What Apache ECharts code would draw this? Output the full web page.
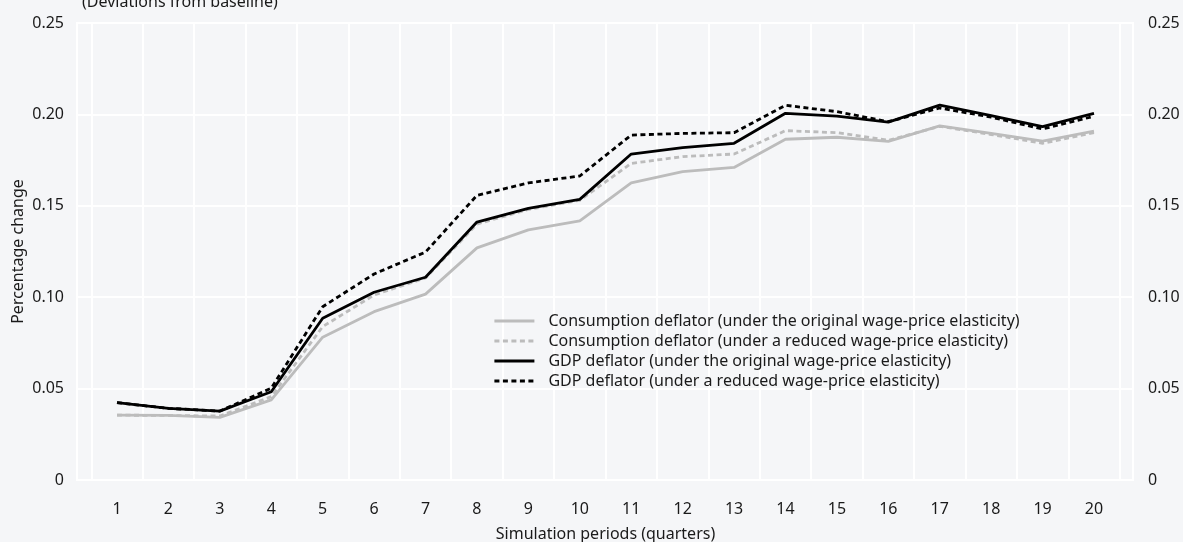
<!DOCTYPE html>
<html>
<head>
<meta charset="utf-8">
<script src="https://cdn.jsdelivr.net/npm/echarts@6/dist/echarts.min.js"></script>
<style>
html,body{margin:0;padding:0;background:#f5f6f8;}
#chart{width:1183px;height:542px;}
</style>
</head>
<body>
<div id="chart"></div>
<script>
const categories = ['1','2','3','4','5','6','7','8','9','10','11','12','13','14','15','16','17','18','19','20'];
const yTicks = [0, 0.05, 0.10, 0.15, 0.20, 0.25];
const consOriginal = [0.0355,0.0353,0.0343,0.0438,0.0781,0.0921,0.1017,0.1270,0.1368,0.1417,0.1626,0.1687,0.1710,0.1864,0.1875,0.1852,0.1937,0.1896,0.1854,0.1909];
const consReduced  = [0.0355,0.0353,0.0350,0.0456,0.0839,0.1012,0.1105,0.1400,0.1480,0.1530,0.1732,0.1769,0.1783,0.1911,0.1900,0.1858,0.1935,0.1890,0.1842,0.1900];
const gdpOriginal  = [0.0423,0.0392,0.0377,0.0483,0.0885,0.1027,0.1109,0.1411,0.1486,0.1535,0.1783,0.1818,0.1842,0.2006,0.1991,0.1958,0.2051,0.1993,0.1933,0.2006];
const gdpReduced   = [0.0423,0.0392,0.0377,0.0502,0.0948,0.1127,0.1247,0.1557,0.1625,0.1663,0.1887,0.1896,0.1900,0.2050,0.2015,0.1960,0.2035,0.1985,0.1920,0.1990];
const seriesNames = [
  'Consumption deflator (under the original wage-price elasticity)',
  'Consumption deflator (under a reduced wage-price elasticity)',
  'GDP deflator (under the original wage-price elasticity)',
  'GDP deflator (under a reduced wage-price elasticity)'
];

const FONT = 'Noto Sans';
const FS = 16;
const TXT = '#1a1a1a';
const chart = echarts.init(document.getElementById('chart'));
function fmt(v){ return v === 0 ? '0' : v.toFixed(2); }
function mk(name, data, color, dashed){
  return {
    name: name, type: 'line', data: data, xAxisIndex: 1, yAxisIndex: 2,
    symbol: 'none', smooth: false,
    lineStyle: {color: color, width: 2.8, type: dashed ? [5,3.5] : 'solid'},
    itemStyle: {color: color}
  };
}
chart.setOption({
  backgroundColor: '#f5f6f8',
  animation: false,
  textStyle: {fontFamily: FONT, color: TXT},
  title: {
    text: '(Deviations from baseline)', left: 77, top: -11,
    textStyle: {fontFamily: FONT, fontSize: FS, fontWeight: 'normal', color: TXT}
  },
  legend: {
    orient: 'vertical', left: 493, top: 313, padding: 0,
    itemWidth: 40, itemHeight: 16, itemGap: 4,
    itemStyle: {opacity: 0},
    lineStyle: {width: 2.8},
    textStyle: {fontFamily: FONT, fontSize: FS, color: TXT, padding: [0, 0, 0, 9]},
    data: seriesNames
  },
  grid: [
    {left: 77, right: 50, top: 23, bottom: 62, show: true, borderColor: '#ffffff', borderWidth: 2, backgroundColor: 'transparent', outerBoundsMode: 'none', containLabel: false},
    {left: 91.3, right: 63.3, top: 23, bottom: 62, outerBoundsMode: 'none', containLabel: false}
  ],
  xAxis: [
    {type: 'value', gridIndex: 0, min: 0, max: 1, show: false},
    {
      type: 'category', gridIndex: 1, data: categories, boundaryGap: true,
      axisLine: {show: false}, axisTick: {show: false},
      splitLine: {show: true, interval: 0, lineStyle: {color: '#ffffff', width: 2}},
      axisLabel: {fontFamily: FONT, fontSize: FS, color: TXT, margin: 21, interval: 0},
      name: 'Simulation periods (quarters)', nameLocation: 'middle', nameGap: 46,
      nameMoveOverlap: false,
      nameTextStyle: {fontFamily: FONT, fontSize: FS, color: TXT}
    }
  ],
  yAxis: [
    {
      type: 'value', gridIndex: 0, position: 'left', min: yTicks[0], max: yTicks[yTicks.length-1], interval: 0.05,
      axisLine: {show: false}, axisTick: {show: false},
      splitLine: {show: true, lineStyle: {color: '#ffffff', width: 2}},
      axisLabel: {fontFamily: FONT, fontSize: FS, color: TXT, margin: 13, formatter: fmt},
      name: 'Percentage change', nameLocation: 'middle', nameGap: 51,
      nameMoveOverlap: false,
      nameTextStyle: {fontFamily: FONT, fontSize: FS, color: TXT}
    },
    {
      type: 'value', gridIndex: 0, position: 'right', min: yTicks[0], max: yTicks[yTicks.length-1], interval: 0.05,
      axisLine: {show: false}, axisTick: {show: false}, splitLine: {show: false},
      axisLabel: {fontFamily: FONT, fontSize: FS, color: TXT, margin: 15, formatter: fmt}
    },
    {
      type: 'value', gridIndex: 1, min: yTicks[0], max: yTicks[yTicks.length-1], show: false
    }
  ],
  series: [
    mk(seriesNames[0], consOriginal, '#bcbcbc', false),
    mk(seriesNames[1], consReduced, '#bcbcbc', true),
    mk(seriesNames[2], gdpOriginal, '#000000', false),
    mk(seriesNames[3], gdpReduced, '#000000', true)
  ]
});
</script>
</body>
</html>
